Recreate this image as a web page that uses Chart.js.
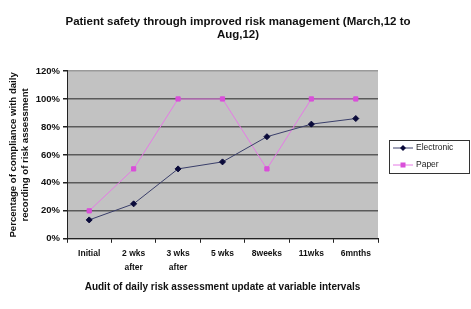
<!DOCTYPE html>
<html>
<head>
<meta charset="utf-8">
<script src="https://cdn.jsdelivr.net/npm/chart.js@4.4.0/dist/chart.umd.min.js"></script>
<style>
  html, body { margin: 0; padding: 0; background: #fff; }
  #wrap { width: 471px; height: 309px; }
</style>
</head>
<body>
<div id="wrap"><canvas id="myChart"></canvas></div>
<script>
var categories = ['Initial', ['2 wks', 'after'], ['3 wks', 'after'], '5 wks', '8weeks', '11wks', '6mnths'];
var electronic = [13.5, 25, 50, 55, 73, 82, 86];
var paper = [20, 50, 100, 100, 50, 100, 100];
var yTicks = [0, 20, 40, 60, 80, 100, 120];

var FONT = "'Liberation Sans', Arial, sans-serif";

// grey plot background
var plotBg = {
    id: 'plotBg',
    beforeDraw: function (chart) {
        var a = chart.chartArea, c = chart.ctx;
        c.save();
        c.fillStyle = '#c2c2c2';
        c.fillRect(a.left, a.top, a.right - a.left, a.bottom - a.top);
        c.restore();
    }
};

// boxed legend with line + marker, like the old excel one
var boxLegend = {
    id: 'boxLegend',
    afterDraw: function (chart) {
        var c = chart.ctx;
        var x = 389, y = 140, w = 80, h = 33;
        c.save();
        c.fillStyle = '#fff';
        c.fillRect(x, y, w, h);
        c.strokeStyle = '#333';
        c.lineWidth = 1;
        c.strokeRect(x + 0.5, y + 0.5, w, h);
        chart.data.datasets.forEach(function (ds, i) {
            var yy = y + 8 + i * 17;
            c.strokeStyle = ds.borderColor;
            c.lineWidth = 1;
            c.beginPath();
            c.moveTo(x + 4, yy);
            c.lineTo(x + 24, yy);
            c.stroke();
            c.fillStyle = ds.pointBackgroundColor;
            if (ds.pointStyle === 'rectRot') {
                c.beginPath();
                c.moveTo(x + 14, yy - 3);
                c.lineTo(x + 17, yy);
                c.lineTo(x + 14, yy + 3);
                c.lineTo(x + 11, yy);
                c.closePath();
                c.fill();
            } else {
                c.fillRect(x + 11.5, yy - 2.5, 5, 5);
            }
            c.fillStyle = '#222';
            c.font = '8.5px ' + FONT;
            c.textBaseline = 'middle';
            c.fillText(ds.label, x + 27, yy);
        });
        c.restore();
    }
};

var ctx = document.getElementById('myChart').getContext('2d');

new Chart(ctx, {
    type: 'line',
    data: {
        labels: categories,
        datasets: [{
            label: 'Electronic',
            data: electronic,
            borderColor: '#3a3f6a',
            borderWidth: 1,
            pointBackgroundColor: '#0a0a3a',
            pointBorderColor: '#0a0a3a',
            pointStyle: 'rectRot',
            pointRadius: 3,
            tension: 0
        }, {
            label: 'Paper',
            data: paper,
            borderColor: '#e67ae6',
            borderWidth: 1,
            pointBackgroundColor: '#d94fd9',
            pointBorderColor: '#d94fd9',
            pointStyle: 'rect',
            pointRadius: 3,
            tension: 0
        }]
    },
    options: {
        responsive: true,
        maintainAspectRatio: false,
        animation: false,
        layout: { padding: { left: 5, right: 0, top: 0, bottom: 16 } },
        plugins: {
            legend: { display: false },
            tooltip: { enabled: false },
            title: {
                display: true,
                text: ['Patient safety through improved risk management (March,12 to', 'Aug,12)'],
                color: '#111',
                font: { family: FONT, size: 11.5, weight: 'bold', lineHeight: 1.13 },
                padding: { top: 15, bottom: 30 }
            }
        },
        scales: {
            x: {
                offset: true,
                grid: {
                    offset: true,
                    drawOnChartArea: false,
                    color: '#222',
                    tickLength: 4
                },
                border: { color: '#222', width: 1 },
                ticks: {
                    color: '#111',
                    padding: 4,
                    maxRotation: 0,
                    autoSkip: false,
                    font: { family: FONT, size: 8.5, weight: 'bold', lineHeight: 1.6 }
                },
                title: {
                    display: true,
                    text: 'Audit of daily risk assessment update at variable intervals',
                    color: '#111',
                    font: { family: FONT, size: 10, weight: 'bold' },
                    padding: { top: 3, bottom: 0 }
                }
            },
            y: {
                min: 0,
                max: 120,
                afterFit: function (s) { s.width = 62; },
                afterBuildTicks: function (s) {
                    s.ticks = yTicks.map(function (v) { return { value: v }; });
                },
                grid: {
                    color: function (c) { return c.tick && c.tick.value === 120 ? '#9a9a9a' : '#5a5a5a'; },
                    lineWidth: 1.5,
                    tickColor: '#222',
                    tickLength: 4
                },
                border: { color: '#222', width: 1 },
                ticks: {
                    color: '#111',
                    padding: 3,
                    font: { family: FONT, size: 9.5, weight: 'bold' },
                    callback: function (v) { return v + '%'; }
                },
                title: {
                    display: true,
                    text: ['Percentage of compliance with daily', 'recording of risk assessment'],
                    color: '#111',
                    font: { family: FONT, size: 9.6, weight: 'bold', lineHeight: 1.25 },
                    padding: { top: 2, bottom: 1 }
                }
            },
            // empty right-hand axis that just reserves room for the legend
            side: {
                position: 'right',
                display: true,
                afterFit: function (s) { s.width = 93; },
                grid: { display: false },
                border: { display: false },
                ticks: { display: false }
            }
        }
    },
    plugins: [plotBg, boxLegend]
});
</script>
</body>
</html>
